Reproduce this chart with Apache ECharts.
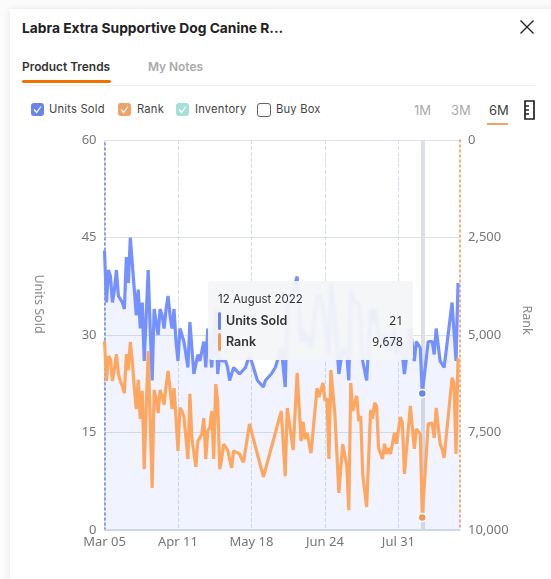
<!DOCTYPE html>
<html>
<head>
<meta charset="utf-8">
<title>Product Trends</title>
<script src="https://cdn.jsdelivr.net/npm/echarts@6/dist/echarts.min.js"></script>
<style>
  html, body { margin: 0; padding: 0; background: #fbfbfb; }
  body { width: 551px; height: 579px; overflow: hidden; position: relative; font-family: Inter, "Noto Sans", sans-serif; }
  .card { position: absolute; left: 10px; top: 9px; width: 560px; height: 600px; background: #fff; box-shadow: 0 0 8px rgba(0,0,0,.08); }
  .abs { position: absolute; white-space: nowrap; line-height: 1; }
  #chart { position: absolute; left: 0; top: 0; width: 551px; height: 579px; }
  .box { position: absolute; top: 103px; width: 13px; height: 13px; border-radius: 3px; }
  .box svg { display: block; }
  .legend { top: 104px; font-size: 11.2px; color: #444; letter-spacing: .2px; }
  .range { top: 104px; font-size: 13px; color: #aaa; }
</style>
</head>
<body>
<div class="card"></div>

<div class="abs" style="left:22px;top:22px;font-size:13.8px;font-weight:700;color:#222;">Labra Extra Supportive Dog Canine R...</div>
<svg class="abs" style="left:520px;top:20px;" width="14" height="14"><path d="M0.5 0.5L13.5 13.5M13.5 0.5L0.5 13.5" stroke="#222" stroke-width="1.4" fill="none"/></svg>

<div class="abs" style="left:22px;top:61px;font-size:11.9px;font-weight:600;color:#333;">Product Trends</div>
<div class="abs" style="left:148px;top:61px;font-size:11.9px;font-weight:600;color:#aaa;">My Notes</div>
<div class="abs" style="left:22px;top:85px;width:512px;height:1px;background:#eceef0;"></div>
<div class="abs" style="left:22px;top:80px;width:89px;height:3px;border-radius:2px;background:#f27200;"></div>

<div class="box" style="left:31px;background:#6b84ec;"><svg width="13" height="13"><path d="M3 6.5L5.5 9.5L10 3.5" stroke="#fff" stroke-width="1.2" fill="none"/></svg></div>
<div class="abs legend" style="left:49px;">Units Sold</div>
<div class="box" style="left:118px;background:#f0a368;"><svg width="13" height="13"><path d="M3 6.5L5.5 9.5L10 3.5" stroke="#fff" stroke-width="1.2" fill="none"/></svg></div>
<div class="abs legend" style="left:137px;">Rank</div>
<div class="box" style="left:176px;background:#a5e0d8;"><svg width="13" height="13"><path d="M3 6.5L5.5 9.5L10 3.5" stroke="#fff" stroke-width="1.2" fill="none"/></svg></div>
<div class="abs legend" style="left:195px;">Inventory</div>
<div class="box" style="left:257px;width:12px;height:12px;border:1.2px solid #666;"></div>
<div class="abs legend" style="left:276px;">Buy Box</div>

<div class="abs range" style="left:414px;">1M</div>
<div class="abs range" style="left:451px;">3M</div>
<div class="abs range" style="left:489px;color:#444;">6M</div>
<div class="abs" style="left:487px;top:123px;width:21px;height:1.5px;background:#f4a26a;"></div>
<svg class="abs" style="left:524px;top:100px;" width="11" height="20"><path d="M1 1H10V19H1ZM1 6H5M1 10H5M1 14H5" stroke="#222" stroke-width="1.7" fill="none"/></svg>

<div id="chart"></div>

<script>
const startDate = Date.UTC(2022, 2, 5);
const dayCount = 180;
const selectedDay = 160;

const unitDays = [0,1,2,3,4,5,6,7,8,9,10,11,12,13,14,15,16,17,18,19,20,22,23,24,25,26,27,28,29,30,31,32,33,34,35,36,37,38,39,40,41,42,43,45,47,48,50,51,52,54,56,57,58,59,61,62,63,65,66,68,69,71,73,77,80,81,82,84,86,88,89,91,92,97,99,100,101,102,104,107,109,111,113,114,116,118,120,122,123,124,126,128,129,130,132,134,135,136,137,138,140,141,142,143,144,146,147,149,150,151,154,156,157,159,160,163,165,166,167,169,170,171,175,176,177,178,179];
const unitValues = [43,35,40,39,35,37,40,36,36,35,34,42,38,45,41,37,33,37,31,35,26,40,31,23,34,32,30,34,33,31,34,36,33,31,34,29,26,31,30,29,27,25,32,24,27,26,29,25,31,25,34,24,27,26,26,25,23,25,25,24,24,25,27,23,22,23,23,24,25,27,28,22,34,39,29,31,29,30,28,36,36,32,27,38,33,24,28,27,23,37,35,35,32,26,23,34,32,34,33,30,29,30,28,29,28,31,27,29,27,24,31,26,29,28,21,29,29,27,31,26,26,25,35,35,26,38,38];

const rankDays = [0,1,2,3,4,5,6,7,8,9,10,11,12,13,14,15,16,17,18,19,20,22,24,25,26,27,28,29,30,31,32,33,34,35,36,37,38,39,40,41,42,43,44,45,46,47,48,49,50,51,52,53,54,55,56,57,58,59,60,61,62,63,64,65,66,68,69,70,73,80,89,91,92,95,97,99,100,101,102,104,107,108,110,111,112,113,114,116,118,120,122,123,124,125,127,128,129,130,132,134,135,136,137,138,139,140,141,142,143,144,146,147,149,150,151,154,156,157,159,160,163,165,166,167,169,170,171,175,176,177,178,179];
const rankValues = [5154,6180,5540,5615,6180,5870,5490,6000,6180,6310,6490,5490,5900,5180,5670,6360,6900,6150,7150,6430,8440,5410,8920,6410,6640,7000,6410,6560,6790,6310,5920,6380,6900,6360,7130,7970,6870,6950,7100,7640,8180,6510,7640,7620,8380,7720,7640,7540,7130,8180,7460,7380,6950,8180,6260,6690,8440,8180,7800,7800,7950,8000,8410,7970,7950,8050,8180,8260,7280,8640,6950,8620,6870,7950,5970,7720,7230,7670,7510,8030,6360,6590,6230,6690,6620,8180,5900,7030,9050,7800,8360,9490,6230,6950,6560,7210,7080,8560,9410,6920,7150,6740,6820,7900,7900,8180,7790,8050,7900,8050,7510,7790,7100,7260,8560,6820,7920,7410,7540,9678,7280,7260,7640,6870,7790,7920,8150,6100,6230,8050,5590,5590];

const leftTicks = [0, 15, 30, 45, 60];
const rightTicks = [0, 2500, 5000, 7500, 10000];

const blue = "#6b84ec";
const orange = "#ec9859";

const monthsShort = ["Jan","Feb","Mar","Apr","May","Jun","Jul","Aug","Sep","Oct","Nov","Dec"];
const monthsLong = ["January","February","March","April","May","June","July","August","September","October","November","December"];

// one category per day, days with no reading stay null
const categories = [];
const fullDates = [];
for (let i = 0; i < dayCount; i++) {
  const d = new Date(startDate + i * 86400000);
  const day = String(d.getUTCDate()).padStart(2, "0");
  categories.push(monthsShort[d.getUTCMonth()] + " " + day);
  fullDates.push(d.getUTCDate() + " " + monthsLong[d.getUTCMonth()] + " " + d.getUTCFullYear());
}
function expand(days, values) {
  const out = new Array(dayCount).fill(null);
  days.forEach((d, i) => { out[d] = values[i]; });
  return out;
}

const chart = echarts.init(document.getElementById("chart"));
const axisLabel = { color: "#777", fontSize: 13, fontFamily: "Noto Sans" };

function row(color, name, value, weight) {
  return '<div style="display:flex;align-items:center;height:21px;">' +
    '<span style="width:3px;height:18px;border-radius:2px;background:' + color + ';margin-right:5px;"></span>' +
    '<span style="flex:1;font-weight:' + weight + ';">' + name + '</span>' +
    '<span style="font-family:Noto Sans;font-size:12px;">' + value + '</span></div>';
}

chart.setOption({
  animation: false,
  grid: { left: 104.5, right: 91, top: 140, bottom: 49 },
  tooltip: {
    trigger: "axis",
    triggerOn: "none",
    alwaysShowContent: true,
    transitionDuration: 0,
    position: [208, 281],
    padding: 0,
    borderWidth: 0,
    backgroundColor: "rgba(244,245,247,0.93)",
    extraCssText: "box-shadow:none;border-radius:4px;width:205px;height:79px;box-sizing:border-box;padding:10px 10px 0 10px;backdrop-filter:blur(1.5px);",
    textStyle: { color: "#333", fontSize: 12.5, fontFamily: "Inter" },
    axisPointer: { type: "line", z: 1, lineStyle: { color: "#dcdfe3", width: 4, type: "solid" } },
    formatter(params) {
      const i = params[0].dataIndex;
      return '<div style="font-size:11.5px;line-height:16px;margin-bottom:3px;">' + fullDates[i] + '</div>' +
        row(blue, "Units Sold", unitValues[unitDays.indexOf(i)], 600) +
        row(orange, "Rank", rankValues[rankDays.indexOf(i)].toLocaleString("en-US"), 600);
    }
  },
  xAxis: {
    type: "category",
    data: categories,
    boundaryGap: false,
    axisLine: { lineStyle: { color: "#ccd4e4", width: 1.5 } },
    axisTick: { show: false },
    axisLabel: Object.assign({ interval: 36, margin: 6 }, axisLabel),
    splitLine: { show: true, interval: 36, lineStyle: { color: "#d5dce8", type: "dashed", width: 1 } }
  },
  yAxis: [
    {
      type: "value",
      min: leftTicks[0],
      max: leftTicks[leftTicks.length - 1],
      interval: 15,
      name: "Units Sold",
      nameLocation: "middle",
      nameRotate: -90,
      nameGap: 59,
      nameTextStyle: { color: "#888", fontSize: 12.5, fontFamily: "Noto Sans", padding: [0, 62, 0, 0] },
      axisLine: { show: true, lineStyle: { color: blue, type: [2, 3], width: 1.5 } },
      axisTick: { show: false },
      axisLabel: Object.assign({ margin: 8 }, axisLabel),
      splitLine: { lineStyle: { color: "#d9e2ea", width: 1 } }
    },
    {
      type: "value",
      min: rightTicks[0],
      max: rightTicks[rightTicks.length - 1],
      interval: 2500,
      inverse: true,
      name: "Rank",
      nameLocation: "middle",
      nameRotate: -90,
      nameGap: 55,
      nameTextStyle: { color: "#888", fontSize: 12.5, fontFamily: "Noto Sans", padding: [0, 30, 0, 0] },
      axisLine: { show: true, lineStyle: { color: orange, type: [2, 3], width: 1.5 } },
      axisTick: { show: false },
      axisLabel: Object.assign({ margin: 8, formatter: v => v.toLocaleString("en-US") }, axisLabel),
      splitLine: { show: false }
    }
  ],
  series: [
    {
      name: "Units Sold",
      type: "line",
      yAxisIndex: 0,
      data: expand(unitDays, unitValues),
      connectNulls: true,
      showSymbol: false,
      symbol: "circle",
      symbolSize: 8,
      lineStyle: { color: blue, width: 3.2 },
      itemStyle: { color: blue, borderColor: "#fff", borderWidth: 1.5 },
      areaStyle: { color: "rgba(107,132,236,0.14)" },
      emphasis: { scale: false }
    },
    {
      name: "Rank",
      type: "line",
      yAxisIndex: 1,
      data: expand(rankDays, rankValues),
      connectNulls: true,
      showSymbol: false,
      symbol: "circle",
      symbolSize: 8,
      lineStyle: { color: orange, width: 3.2 },
      itemStyle: { color: orange, borderColor: "#fff", borderWidth: 1.5 },
      emphasis: { scale: false }
    }
  ]
});

chart.dispatchAction({ type: "showTip", seriesIndex: 0, dataIndex: selectedDay });
</script>
</body>
</html>
